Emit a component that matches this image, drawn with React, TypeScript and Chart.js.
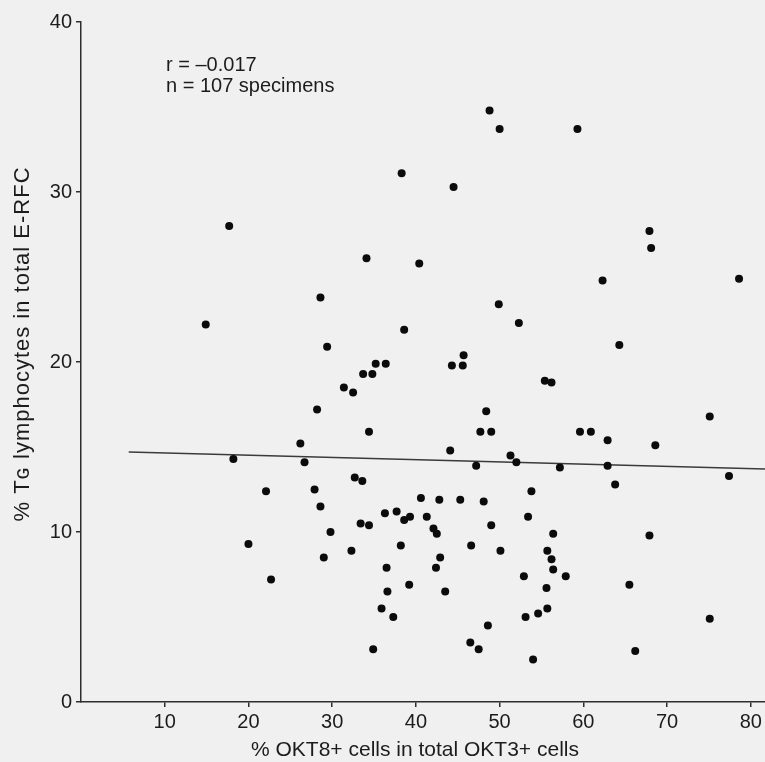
import React, { useEffect, useRef } from "react";
import { Chart, registerables } from "chart.js";

Chart.register(...registerables);

// % OKT8+ cells in total OKT3+ cells (x)
const okt8Pct = [
  38.3, 44.5, 17.7, 34.1, 40.4, 28.6, 14.9, 38.6, 29.4,
  48.8, 50.0, 59.3, 67.9, 68.1, 62.3, 78.6, 49.9, 52.3, 64.3, 45.7,
  35.2, 36.4, 33.7, 34.8, 44.3, 31.4, 32.5, 28.2, 34.4, 26.2, 44.1, 18.2, 26.7,
  32.7, 33.6, 22.1, 27.9, 40.6, 42.8, 28.6, 36.3, 37.7, 38.6, 39.3, 41.3, 33.4,
  34.4, 42.1, 42.5, 29.8,
  20.0, 32.3, 29.0, 38.2, 42.9, 42.4, 36.5, 39.2, 43.5, 22.7, 36.6, 35.9, 37.3, 34.9,
  45.6, 55.4, 56.2, 48.4, 75.1, 47.7, 49.0, 59.6, 60.9, 62.9, 68.6, 51.3, 52.0,
  47.2, 57.2, 62.9, 77.4, 63.8, 53.8, 45.3, 48.1, 53.4, 49.0, 56.4, 67.9,
  46.6, 50.1, 55.7, 56.2, 56.4, 52.9, 57.9, 55.6, 65.5, 53.1, 54.6, 55.7, 75.1,
  48.6, 46.5, 47.5, 66.2, 54.0,
];

// % TG lymphocytes in total E-RFC (y)
const tgPct = [
  31.1, 30.3, 28.0, 26.1, 25.8, 23.8, 22.2, 21.9, 20.9,
  34.8, 33.7, 33.7, 27.7, 26.7, 24.8, 24.9, 23.4, 22.3, 21.0, 20.4,
  19.9, 19.9, 19.3, 19.3, 19.8, 18.5, 18.2, 17.2, 15.9, 15.2, 14.8, 14.3, 14.1,
  13.2, 13.0, 12.4, 12.5, 12.0, 11.9, 11.5, 11.1, 11.2, 10.7, 10.9, 10.9, 10.5,
  10.4, 10.2, 9.9, 10.0,
  9.3, 8.9, 8.5, 9.2, 8.5, 7.9, 7.9, 6.9, 6.5, 7.2, 6.5, 5.5, 5.0, 3.1,
  19.8, 18.9, 18.8, 17.1, 16.8, 15.9, 15.9, 15.9, 15.9, 15.4, 15.1, 14.5, 14.1,
  13.9, 13.8, 13.9, 13.3, 12.8, 12.4, 11.9, 11.8, 10.9, 10.4, 9.9, 9.8,
  9.2, 8.9, 8.9, 8.4, 7.8, 7.4, 7.4, 6.7, 6.9, 5.0, 5.2, 5.5, 4.9,
  4.5, 3.5, 3.1, 3.0, 2.5,
];

// regression line end points
const fitX = [5.7, 81.7];
const fitY = [14.7, 13.7];

const xTicks = [10, 20, 30, 40, 50, 60, 70, 80];
const yTicks = [0, 10, 20, 30, 40];

const annotationLines = ["r = \u20130.017", "n = 107 specimens"];
const xTitle = "% OKT8+ cells in total OKT3+ cells";
const yTitle = "% T\u0262 lymphocytes in total E-RFC";

const FONT = "'Liberation Sans', Arial, Helvetica, sans-serif";
const INK = "#1c1c1c";
const AXIS = "#2e2e2e";
const BG = "#f0f0f0";

const CANVAS_W = 769;
const CANVAS_H = 762;

export default function App() {
  const ref = useRef<HTMLCanvasElement | null>(null);

  useEffect(() => {
    document.body.style.margin = "0";
    document.body.style.background = BG;
    const canvas = ref.current;
    if (!canvas) return;

    const textPlugin = {
      id: "textPlugin",
      beforeDraw(chart: any) {
        const ctx = chart.ctx;
        ctx.save();
        ctx.fillStyle = BG;
        ctx.fillRect(0, 0, chart.width, chart.height);
        ctx.restore();
      },
      afterDraw(chart: any) {
        const ctx = chart.ctx;
        ctx.save();
        ctx.fillStyle = INK;
        ctx.textBaseline = "middle";
        // annotation
        ctx.font = `20px ${FONT}`;
        ctx.textAlign = "left";
        annotationLines.forEach((t, i) => ctx.fillText(t, 166, 65 + i * 21));
        // x title
        ctx.font = `21px ${FONT}`;
        ctx.textAlign = "center";
        ctx.fillText(xTitle, 415, 750);
        // y title
        ctx.translate(23, 344);
        ctx.rotate(-Math.PI / 2);
        ctx.font = `22px ${FONT}`;
        try {
          (ctx as any).letterSpacing = "1px";
        } catch (e) {}
        ctx.fillText(yTitle, 0, 0);
        ctx.restore();
      },
    };

    const chart = new Chart(canvas, {
      type: "scatter",
      data: {
        datasets: [
          {
            data: okt8Pct.map((x, i) => ({ x, y: tgPct[i] })),
            backgroundColor: "#0b0b0b",
            borderColor: "#0b0b0b",
            borderWidth: 0,
            pointRadius: 4,
            order: 0,
          },
          {
            type: "line",
            data: fitX.map((x, i) => ({ x, y: fitY[i] })),
            borderColor: "#3a3a3a",
            borderWidth: 1.5,
            pointRadius: 0,
            fill: false,
            order: 1,
          } as any,
        ],
      },
      plugins: [textPlugin],
      options: {
        animation: false,
        responsive: false,
        maintainAspectRatio: false,
        events: [],
        layout: { padding: { top: 22, left: 0, right: 0, bottom: 0 } },
        plugins: {
          legend: { display: false },
          tooltip: { enabled: false },
        },
        scales: {
          x: {
            type: "linear",
            min: 0,
            max: 81.7,
            afterBuildTicks: (s: any) => {
              s.ticks = xTicks.map((v) => ({ value: v }));
            },
            afterFit: (s: any) => {
              s.height = 60;
              s.paddingRight = 0;
              s.paddingLeft = 0;
            },
            ticks: {
              color: INK,
              font: { family: FONT, size: 20 },
              padding: 3,
              maxRotation: 0,
              autoSkip: false,
            },
            grid: {
              display: true,
              drawOnChartArea: false,
              drawTicks: true,
              tickLength: 5,
              color: AXIS,
              lineWidth: 1.5,
            },
            border: { display: true, color: AXIS, width: 1.5 },
          },
          y: {
            type: "linear",
            min: 0,
            max: 40,
            afterBuildTicks: (s: any) => {
              s.ticks = yTicks.map((v) => ({ value: v }));
            },
            afterFit: (s: any) => {
              s.width = 81;
            },
            ticks: {
              color: INK,
              font: { family: FONT, size: 20 },
              padding: 4,
              autoSkip: false,
            },
            grid: {
              display: true,
              drawOnChartArea: false,
              drawTicks: true,
              tickLength: 5,
              color: AXIS,
              lineWidth: 1.5,
            },
            border: { display: true, color: AXIS, width: 1.5 },
          },
        },
      },
    });

    return () => chart.destroy();
  }, []);

  return (
    <div
      style={{
        position: "absolute",
        left: 0,
        top: 0,
        width: 765,
        height: 762,
        overflow: "hidden",
        background: BG,
      }}
    >
      <canvas
        ref={ref}
        width={CANVAS_W}
        height={CANVAS_H}
        style={{ display: "block", width: CANVAS_W, height: CANVAS_H }}
      />
    </div>
  );
}
